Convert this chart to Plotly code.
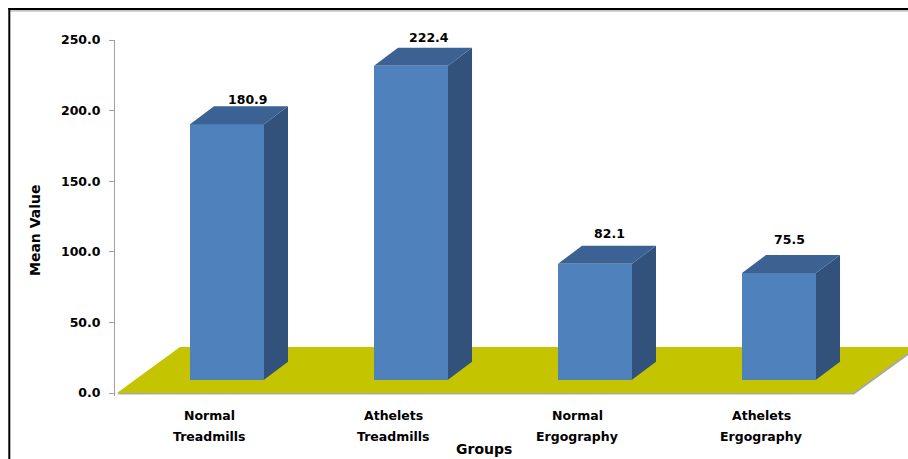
import plotly.graph_objects as go

# ---- data ----
categories = ["Normal Treadmills", "Athelets Treadmills", "Normal Ergography", "Athelets Ergography"]
values = [180.9, 222.4, 82.1, 75.5]
y_ticks = [0, 50, 100, 150, 200, 250]
y_title = "Mean Value"
x_title = "Groups"

# ---- geometry (pixel layout of the figure) ----
W_FIG, H_FIG = 908, 459
L, R, T, B = 115, 0, 40, 63
PW = W_FIG - L - R
PH = H_FIG - T - B
Y_MIN, Y_MAX = -2.125, 250
PX_PER_Y = PH / (Y_MAX - Y_MIN)
PX_PER_X = 184.0
X0_PX = 227.0  # pixel of category 0
X_MIN = (L - X0_PX) / PX_PER_X
X_MAX = (W_FIG - R - X0_PX) / PX_PER_X


def dxu(px):
    return px / PX_PER_X


def dyu(px):
    return px / PX_PER_Y


def paper_x(px):
    return (px - L) / PW


def paper_y(py):
    return (T + PH - py) / PH


FRONT = "#4F81BD"
TOP = "#3C6193"
SIDE = "#32527C"
FLOOR = "#C4C400"
FONT = "DejaVu Sans"

bar_w = dxu(74)
depth_x = dxu(24)
depth_y = dyu(18)
base = dyu(13.3)

fig = go.Figure()

xs = list(range(len(values)))

# side and top faces of the 3D columns
for i, v in zip(xs, values):
    xl, xr = i - bar_w / 2, i + bar_w / 2
    top = v + base
    fig.add_trace(go.Scatter(
        x=[xr, xr, xr + depth_x, xr + depth_x, xr],
        y=[base, top, top + depth_y, base + depth_y, base],
        fill="toself", fillcolor=SIDE, mode="lines", line=dict(width=0, color=SIDE),
        hoverinfo="skip", showlegend=False))
    fig.add_trace(go.Scatter(
        x=[xl, xr, xr + depth_x, xl + depth_x, xl],
        y=[top, top, top + depth_y, top + depth_y, top],
        fill="toself", fillcolor=TOP, mode="lines", line=dict(width=0, color=TOP),
        hoverinfo="skip", showlegend=False))

# front faces
fig.add_trace(go.Bar(
    x=xs, y=values, base=[base] * len(values), width=bar_w,
    marker=dict(color=FRONT, line=dict(width=0)), showlegend=False, hoverinfo="skip"))

# floor
fl_l, fl_r = dxu(117 - X0_PX), dxu(853 - X0_PX)
fl_dx, fl_dy = dxu(63), dyu(46)
sh = dyu(1.6)
shapes = [
    dict(type="path", xref="x", yref="y", layer="below",
         path=f"M {fl_l},{-sh} L {fl_r + dxu(1)},{-sh} L {fl_r + fl_dx + dxu(1)},{fl_dy - sh} "
              f"L {fl_l + fl_dx},{fl_dy - sh} Z",
         fillcolor="#A8A8A8", line=dict(width=0)),
    dict(type="path", xref="x", yref="y", layer="below",
         path=f"M {fl_l},0 L {fl_r},0 L {fl_r + fl_dx},{fl_dy} L {fl_l + fl_dx},{fl_dy} Z",
         fillcolor=FLOOR, line=dict(width=0)),
]

# frame border
shapes += [
    dict(type="line", xref="paper", yref="paper", x0=paper_x(9), x1=paper_x(W_FIG + 5),
         y0=paper_y(10.8), y1=paper_y(10.8), line=dict(color="#B0B0B0", width=1.2)),
    dict(type="line", xref="paper", yref="paper", x0=paper_x(8.3), x1=paper_x(W_FIG + 5),
         y0=paper_y(9), y1=paper_y(9), line=dict(color="#000000", width=2)),
    dict(type="line", xref="paper", yref="paper", x0=paper_x(9.3), x1=paper_x(9.3),
         y0=paper_y(8), y1=paper_y(H_FIG + 5), line=dict(color="#000000", width=2)),
]

annotations = []
# data labels (Excel 3D label placement drifts slightly with position)
for i, v in zip(xs, values):
    annotations.append(dict(
        x=i, y=v + base + depth_y, xref="x", yref="y",
        text=f"{v:.1f}", showarrow=False, xanchor="center", yanchor="middle",
        xshift=21 - 3.5 * i, yshift=7 + 2.7 * i,
        font=dict(family=FONT, size=12.5, color="black", weight="bold")))

# category labels (two lines each)
for i, c in zip(xs, categories):
    first, second = c.split(" ", 1)
    cx = paper_x(X0_PX - 18 + PX_PER_X * i)
    annotations.append(dict(x=cx, y=paper_y(415), xref="paper", yref="paper", text=first,
                            showarrow=False, xanchor="center", yanchor="middle",
                            font=dict(family=FONT, size=12.5, color="black", weight="bold")))
    annotations.append(dict(x=cx, y=paper_y(436.5), xref="paper", yref="paper", text=second,
                            showarrow=False, xanchor="center", yanchor="middle",
                            font=dict(family=FONT, size=12.5, color="black", weight="bold")))

# axis titles
annotations.append(dict(x=paper_x(35), y=paper_y(230), xref="paper", yref="paper",
                        text=y_title, textangle=-90, showarrow=False,
                        xanchor="center", yanchor="middle",
                        font=dict(family=FONT, size=14, color="black", weight="bold")))
annotations.append(dict(x=paper_x(484), y=paper_y(449), xref="paper", yref="paper",
                        text=x_title, showarrow=False, xanchor="center", yanchor="middle",
                        font=dict(family=FONT, size=14, color="black", weight="bold")))

fig.update_layout(
    width=W_FIG, height=H_FIG,
    margin=dict(l=L, r=R, t=T, b=B, pad=0),
    paper_bgcolor="white", plot_bgcolor="rgba(0,0,0,0)",
    shapes=shapes, annotations=annotations,
    bargap=0,
    xaxis=dict(range=[X_MIN, X_MAX], visible=False, fixedrange=True),
    yaxis=dict(range=[Y_MIN, Y_MAX], tickvals=y_ticks,
               ticktext=[f"{t:.1f}" for t in y_ticks],
               showgrid=False, zeroline=False, showline=True, linecolor="#A0A0A0", linewidth=1,
               ticks="outside", ticklen=5, tickcolor="#A0A0A0", tickwidth=1,
               ticklabelstandoff=6,
               tickfont=dict(family=FONT, size=12.5, color="black", weight="bold"),
               fixedrange=True),
)

fig.write_html("out.html")
